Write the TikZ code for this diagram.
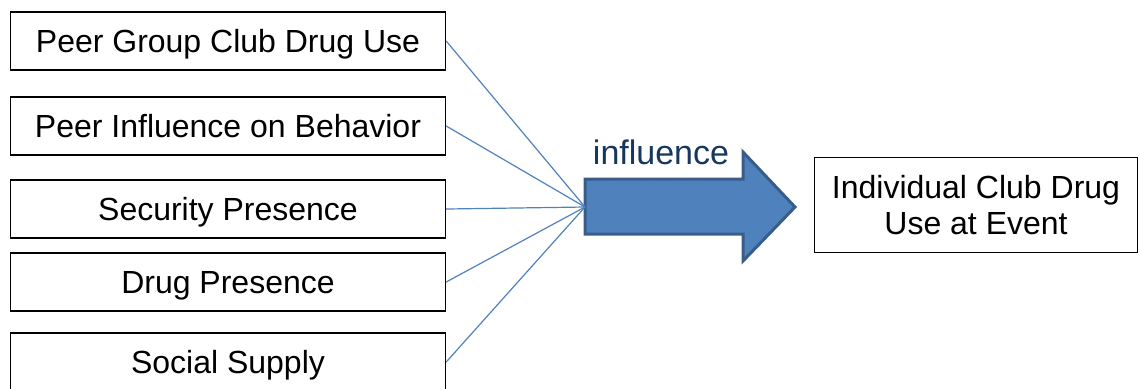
\documentclass[tikz,border=0pt]{standalone}
\usepackage{fontspec}
\setmainfont{Liberation Sans}
\definecolor{linkblue}{HTML}{4F81BD}
\definecolor{arrowedge}{HTML}{385D8A}
\definecolor{wordnavy}{HTML}{17375E}
\tikzset{
  factor/.style={draw=black,line width=0.7pt,minimum width=217.5pt,minimum height=29pt,inner sep=0pt,text height=13pt,text depth=1.5pt,font=\fontsize{16}{18}\selectfont},
  outcome/.style={draw=black,line width=0.7pt,minimum width=161.5pt,minimum height=47.5pt,align=center,inner sep=0pt,font=\fontsize{16}{18}\selectfont},
  link/.style={draw=linkblue,line width=0.6pt}
}
\begin{document}
\begin{tikzpicture}[x=0.5pt,y=-0.5pt]
    \useasboundingbox (0,0) rectangle (1140,388);
    \clip (0,0) rectangle (1140,388);

    % Factor boxes
    \node[factor] (peergroup) at (228,41) {Peer Group Club Drug Use};
    \node[factor] (peerinfl) at (228,126) {Peer Influence on Behavior};
    \node[factor] (security) at (228,209) {Security Presence};
    \node[factor] (drugpres) at (228,282) {Drug Presence};
    \node[factor] (supply) at (228,362) {Social Supply};

    % Outcome box
    \node[outcome] (outcome) at (976,205) {Individual Club Drug\\Use at Event};

    % Block arrow
    \coordinate (hub) at (585,207);
    \filldraw[fill=linkblue,draw=arrowedge,line width=1.5pt,line join=miter]
      (585,179) -- (743,179) -- (743,152) -- (795,207) -- (743,261) -- (743,234) -- (585,234) -- cycle;
    \node[text=wordnavy,font=\fontsize{17}{19}\selectfont] (word) at (661,152) {influence};

    % Links
    \foreach \f in {peergroup,peerinfl,security,drugpres,supply}
      \draw[link] (\f.east) -- (hub);
\end{tikzpicture}
\end{document}
